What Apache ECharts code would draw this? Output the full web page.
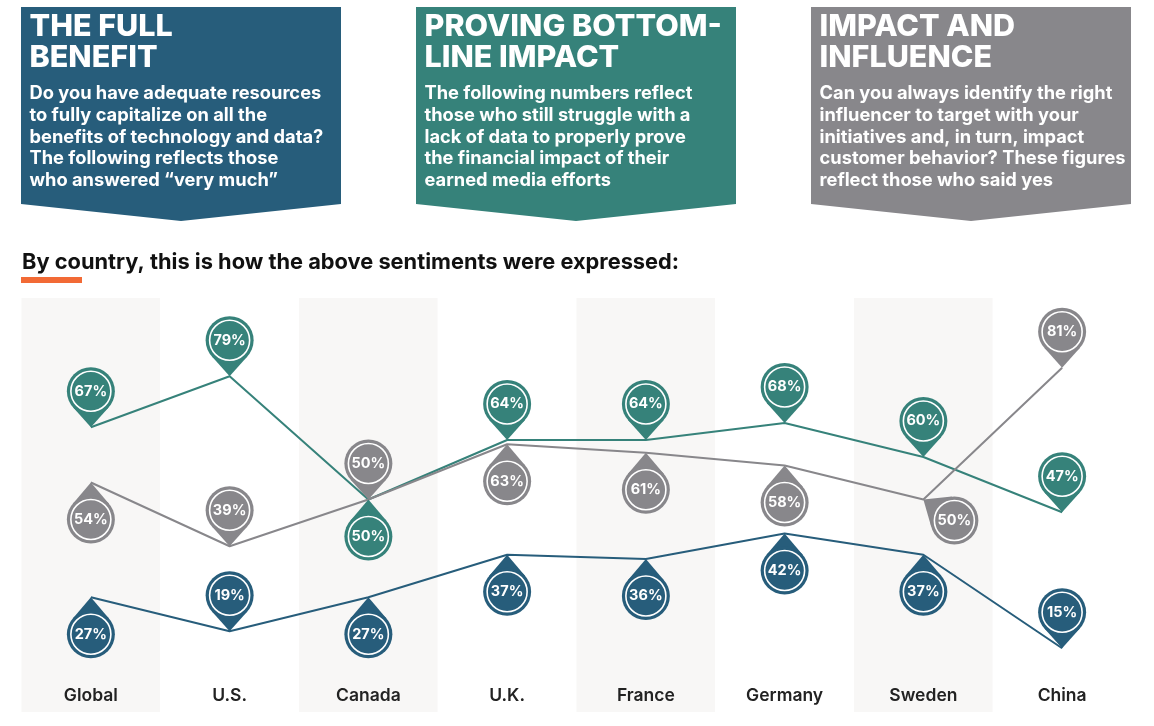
<!DOCTYPE html>
<html>
<head>
<meta charset="utf-8">
<style>
  html, body { margin: 0; padding: 0; background: #fff; }
  #chart { width: 1154px; height: 726px; }
</style>
<script src="https://cdn.jsdelivr.net/npm/echarts@6/dist/echarts.min.js"></script>
</head>
<body>
<div id="chart"></div>
<script>
const countries = ['Global', 'U.S.', 'Canada', 'U.K.', 'France', 'Germany', 'Sweden', 'China'];
const technologyValues = [27, 19, 27, 37, 36, 42, 37, 15];
const impactValues = [67, 79, 50, 64, 64, 68, 60, 47];
const influenceValues = [54, 39, 50, 63, 61, 58, 50, 81];

// which way each pin sits from its point
const technologyPins = ['below', 'above', 'below', 'below', 'below', 'below', 'below', 'above'];
const impactPins = ['above', 'above', 'below', 'above', 'above', 'above', 'above', 'above'];
const influencePins = ['below', 'above', 'above', 'below', 'below', 'below', 'side', 'above'];

const panelTitles = [
  ['THE FULL', 'BENEFIT'],
  ['PROVING BOTTOM-', 'LINE IMPACT'],
  ['IMPACT AND', 'INFLUENCE']
];
const panelTexts = [
  ['Do you have adequate resources', 'to fully capitalize on all the', 'benefits of technology and data?', 'The following reflects those', 'who answered “very much”'],
  ['The following numbers reflect', 'those who still struggle with a', 'lack of data to properly prove', 'the financial impact of their', 'earned media efforts'],
  ['Can you always identify the right', 'influencer to target with your', 'initiatives and, in turn, impact', 'customer behavior? These figures', 'reflect those who said yes']
];
const subtitle = 'By country, this is how the above sentiments were expressed:';

const BLUE = '#275d7b';
const TEAL = '#36827a';
const GRAY = '#88878b';
const FONT = 'Inter';

const pinVectors = { above: [0, -36], below: [0, 37], side: [31, 21] };

function pinSeries(values, sides, color) {
  return {
    type: 'custom',
    z: 5,
    data: values.map((v, i) => [i, v, sides[i]]),
    encode: { x: 0, y: 1 },
    renderItem(params, api) {
      const tip = api.coord([api.value(0), api.value(1)]);
      const vec = pinVectors[sides[params.dataIndex]];
      const cx = tip[0] + vec[0];
      const cy = tip[1] + vec[1];
      const r = 24;
      const dist = Math.hypot(vec[0], vec[1]);
      const base = Math.atan2(-vec[1], -vec[0]);
      const spread = Math.acos(r / dist);
      return {
        type: 'group',
        children: [
          { type: 'polygon', shape: { points: [
              tip,
              [cx + r * Math.cos(base + spread), cy + r * Math.sin(base + spread)],
              [cx + r * Math.cos(base - spread), cy + r * Math.sin(base - spread)]
            ] }, style: { fill: color } },
          { type: 'circle', shape: { cx, cy, r }, style: { fill: color } },
          { type: 'circle', shape: { cx, cy, r: 20 }, style: { fill: color, stroke: '#fff', lineWidth: 1.6 } },
          { type: 'text', x: cx, y: cy, style: {
              text: api.value(1) + '%', fill: '#fff', font: '700 14.5px ' + FONT,
              align: 'center', verticalAlign: 'middle'
            } }
        ]
      };
    }
  };
}

function lineSeries(values, color) {
  return { type: 'line', data: values, symbol: 'none', z: 3, lineStyle: { color, width: 2 } };
}

function panel(i, left, color) {
  const right = left + 320;
  const children = [
    { type: 'polygon', shape: { points: [[left, 7], [right, 7], [right, 204], [left + 160, 221], [left, 204]] }, style: { fill: color } }
  ];
  panelTitles[i].forEach((t, n) => children.push({
    type: 'text', x: left + 8.5, y: 27 + n * 30.5,
    style: { text: t, fill: '#fff', font: '800 30.5px ' + FONT, verticalAlign: 'middle' }
  }));
  panelTexts[i].forEach((t, n) => children.push({
    type: 'text', x: left + 8.5, y: 94 + n * 21.6,
    style: { text: t, fill: '#fff', font: '700 18.3px ' + FONT, verticalAlign: 'middle' }
  }));
  return { type: 'group', children };
}

const chart = echarts.init(document.getElementById('chart'));
chart.setOption({
  animation: false,
  backgroundColor: '#fff',
  grid: { left: 21.5, top: 298, width: 1110, height: 414 },
  xAxis: {
    type: 'category',
    data: countries,
    boundaryGap: true,
    axisLine: { show: false },
    axisTick: { show: false },
    splitArea: { show: true, interval: 0, areaStyle: { color: ['#f8f7f6', '#ffffff'] } },
    axisLabel: { inside: true, interval: 0, margin: 7, color: '#222', fontFamily: FONT, fontWeight: 600, fontSize: 17.5 }
  },
  yAxis: { type: 'value', min: 0, max: 97.4, show: false, splitLine: { show: false } },
  graphic: [
    panel(0, 21, BLUE),
    panel(1, 416, TEAL),
    panel(2, 811, GRAY),
    { type: 'text', x: 22, y: 262, style: { text: subtitle, fill: '#111', font: '700 21.8px ' + FONT, verticalAlign: 'middle' } },
    { type: 'rect', shape: { x: 21, y: 277, width: 61, height: 6 }, style: { fill: '#f26a35' } }
  ],
  series: [
    lineSeries(technologyValues, BLUE),
    lineSeries(impactValues, TEAL),
    lineSeries(influenceValues, GRAY),
    pinSeries(technologyValues, technologyPins, BLUE),
    pinSeries(impactValues, impactPins, TEAL),
    pinSeries(influenceValues, influencePins, GRAY)
  ]
});
</script>
</body>
</html>
